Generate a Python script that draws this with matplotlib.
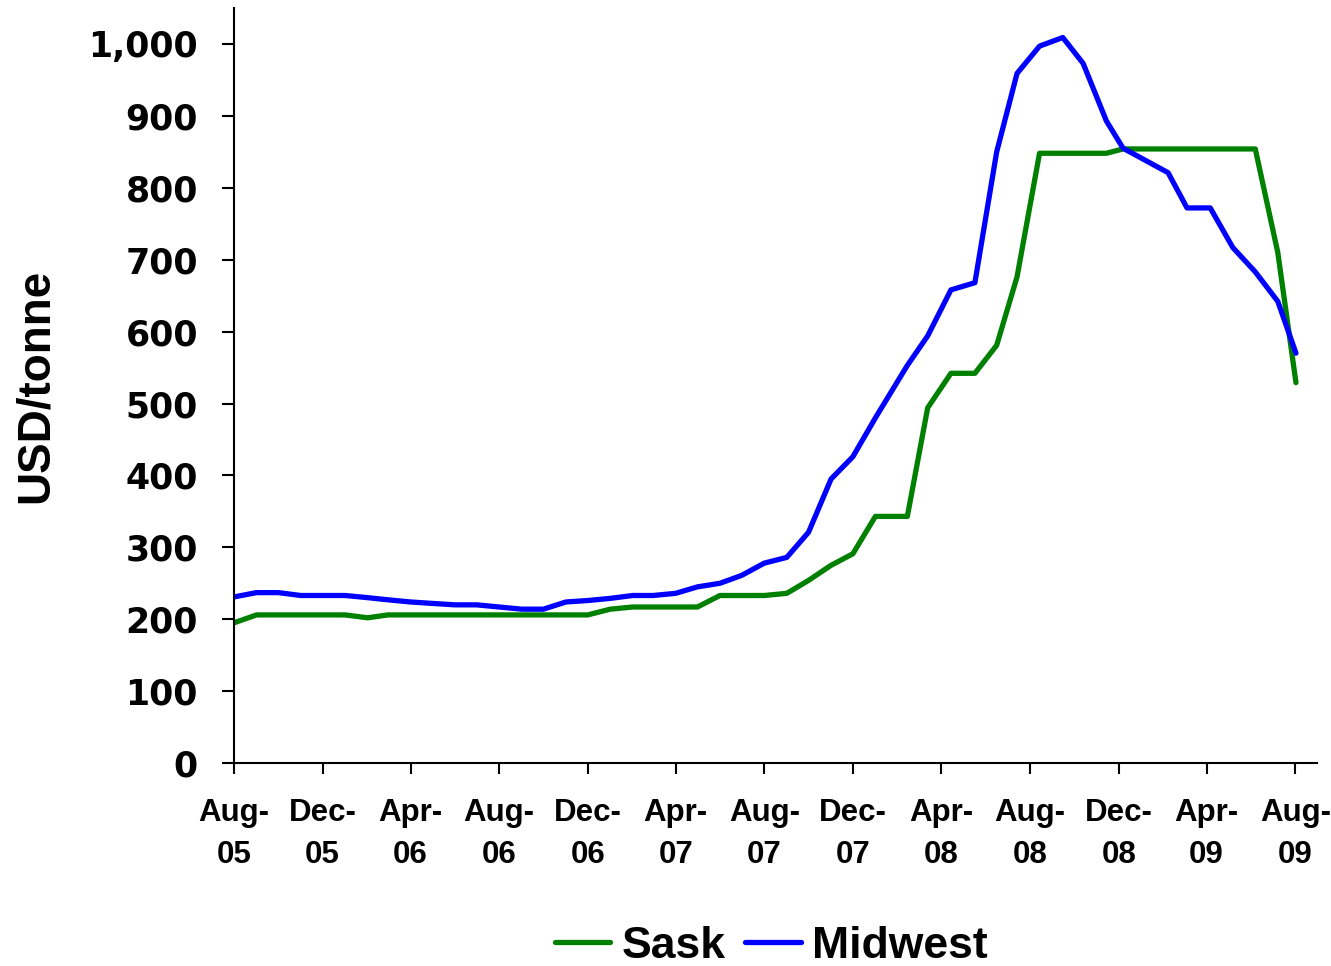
import pandas as pd
import matplotlib
matplotlib.use("Agg")
import matplotlib.pyplot as plt
import matplotlib.dates as mdates
from matplotlib.ticker import FuncFormatter

# Price dates (monthly to Jan-08, then mid-month quotes)
dates = [
    "2005-08-01", "2005-09-01", "2005-10-01", "2005-11-01", "2005-12-01",
    "2006-01-01", "2006-02-01", "2006-03-01", "2006-04-01", "2006-05-01",
    "2006-06-01", "2006-07-01", "2006-08-01", "2006-09-01", "2006-10-01",
    "2006-11-01", "2006-12-01", "2007-01-01", "2007-02-01", "2007-03-01",
    "2007-04-01", "2007-05-01", "2007-06-01", "2007-07-01", "2007-08-01",
    "2007-09-01", "2007-10-01", "2007-11-01", "2007-12-01", "2008-01-01",
    "2008-02-14", "2008-03-13", "2008-04-14", "2008-05-17", "2008-06-16",
    "2008-07-14", "2008-08-14", "2008-09-15", "2008-10-13", "2008-11-14",
    "2008-12-07", "2009-01-07", "2009-02-07", "2009-03-05", "2009-04-06",
    "2009-05-07", "2009-06-07", "2009-07-08", "2009-08-02",
]

# USD/tonne
sask = [
    195, 206, 206, 206, 206, 206, 202, 206, 206, 206,
    206, 206, 206, 206, 206, 206, 206, 214, 217, 217,
    217, 217, 233, 233, 233, 236, 254, 275, 291, 343,
    343, 494, 542, 542, 581, 676, 848, 848, 848, 848,
    854, 854, 854, 854, 854, 854, 854, 710, 529,
]
midwest = [
    231, 237, 237, 233, 233, 233, 230, 227, 224, 222,
    220, 220, 217, 214, 214, 224, 226, 229, 233, 233,
    236, 245, 250, 261, 278, 286, 321, 395, 426, 480,
    553, 594, 658, 668, 850, 959, 997, 1009, 973, 893,
    855, 838, 821, 772, 772, 717, 683, 642, 570,
]

x = pd.to_datetime(dates)
narrow = ["Liberation Sans", "DejaVu Sans"]

fig = plt.figure(figsize=(13.31, 9.66), dpi=100)
ax = fig.add_axes([0.1758, 0.2101, 0.8137, 0.7816])

ax.plot(x, sask, color="#008000", lw=3.8, label="Sask", solid_capstyle="round")
ax.plot(x, midwest, color="#0000FF", lw=3.8, label="Midwest", solid_capstyle="round")

ax.set_ylim(0, 1050)
ax.set_yticks(range(0, 1001, 100))
ax.yaxis.set_major_formatter(FuncFormatter(lambda v, p: f"{int(v):,}"))
ax.set_xlim(pd.Timestamp("2005-08-01"), pd.Timestamp("2009-08-31"))
ax.xaxis.set_major_locator(mdates.MonthLocator(bymonth=[4, 8, 12]))
ax.xaxis.set_major_formatter(FuncFormatter(
    lambda v, p: mdates.num2date(v).strftime("%b-\n%y")))

for s in ["top", "right"]:
    ax.spines[s].set_visible(False)
for s in ["left", "bottom"]:
    ax.spines[s].set_linewidth(1.5)

ax.tick_params(axis="y", length=9, width=1.5, pad=17)
ax.tick_params(axis="x", length=8, width=1.5, pad=17)

for lab in ax.get_yticklabels():
    lab.set_fontfamily("DejaVu Sans")
    lab.set_fontweight("bold")
    lab.set_fontsize(25)
for lab in ax.get_xticklabels():
    lab.set_fontfamily(narrow)
    lab.set_fontweight("bold")
    lab.set_fontsize(22.5)
    lab.set_linespacing(1.55)

ax.set_ylabel("USD/tonne", fontsize=33, fontweight="bold",
              family=narrow, labelpad=22)

fig.legend(loc="center", bbox_to_anchor=(771 / 1331, 1 - 946 / 966), ncol=2,
           frameon=False, handlelength=1.25, handletextpad=0.25, columnspacing=0.45,
           prop={"family": narrow, "weight": "bold", "size": 32})

fig.savefig("out.png", dpi=100)
